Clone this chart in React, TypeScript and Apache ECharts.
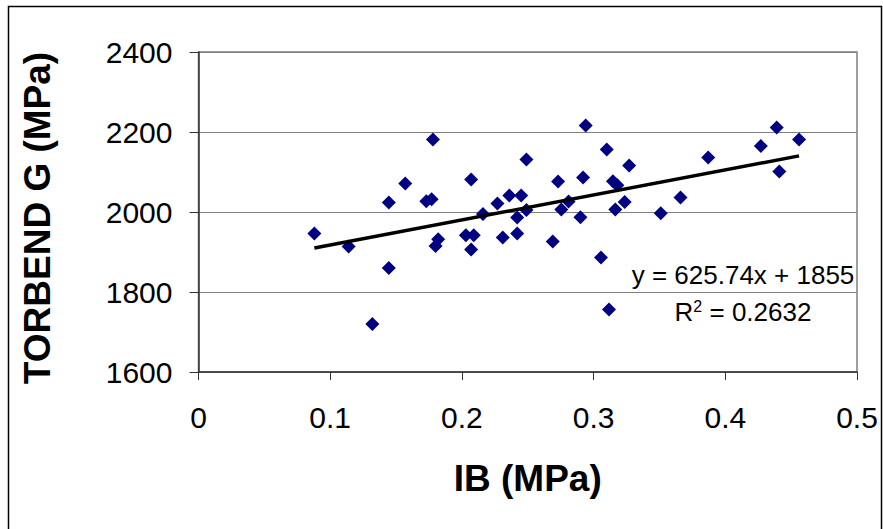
import React, { useEffect, useRef } from "react";
import * as echarts from "echarts";

const ibValues: number[] = [
  0.088, 0.114, 0.132, 0.1445, 0.1445, 0.157, 0.173, 0.177, 0.178, 0.180,
  0.182, 0.203, 0.207, 0.207, 0.209, 0.216, 0.227, 0.231, 0.236, 0.242,
  0.242, 0.245, 0.249, 0.249, 0.269, 0.273, 0.2755, 0.281, 0.290, 0.292,
  0.294, 0.3056, 0.310, 0.3117, 0.3147, 0.3165, 0.318, 0.3236, 0.327, 0.351,
  0.366, 0.387, 0.427, 0.439, 0.441, 0.456,
];
const torbendValues: number[] = [
  1946, 1914, 1720, 1860, 2024, 2071, 2027, 2032, 2181, 1915,
  1932, 1942, 1906, 2081, 1942, 1995, 2021, 1936, 2041, 1946,
  1986, 2041, 2005, 2131, 1926, 2076, 2006, 2026, 1987, 2086,
  2216, 1886, 2156, 1756, 2077, 2006, 2067, 2025, 2116, 1997,
  2036, 2136, 2165, 2211, 2101, 2181,
];
const trendSlope = 625.74;
const trendIntercept = 1855;
const equationText = "y = 625.74x + 1855";
const r2Value = "0.2632";
const xTicks = { min: 0, max: 0.5, interval: 0.1 };
const yTicks = { min: 1600, max: 2400, interval: 200 };

export default function App() {
  const ref = useRef<HTMLDivElement>(null);
  useEffect(() => {
    document.body.style.margin = "0";
    if (!ref.current) return;
    const chart = echarts.init(ref.current, null, { renderer: "svg" });
    const points = ibValues.map((x, i) => [x, torbendValues[i]]);
    const xMin = Math.min(...ibValues);
    const xMax = Math.max(...ibValues);
    const trend = [
      [xMin, trendSlope * xMin + trendIntercept],
      [xMax, trendSlope * xMax + trendIntercept],
    ];
    const font = "Arial, 'Liberation Sans', sans-serif";
    chart.setOption({
      animation: false,
      backgroundColor: "#ffffff",
      grid: {
        left: 198.5,
        right: 26,
        top: 52,
        bottom: 157,
        show: true,
        borderColor: "#808080",
        borderWidth: 1.5,
        backgroundColor: "transparent",
      },
      xAxis: {
        type: "value",
        min: xTicks.min,
        max: xTicks.max,
        interval: xTicks.interval,
        axisLine: { show: true, onZero: false, lineStyle: { color: "#333", width: 1.5 } },
        axisTick: { show: true, inside: false, length: 8, lineStyle: { color: "#333", width: 1 } },
        axisLabel: { color: "#000", fontSize: 30, fontFamily: font, margin: 30, formatter: (v: number) => String(v) },
        splitLine: { show: false },
        name: "IB (MPa)",
        nameLocation: "middle",
        nameGap: 88,
        nameTextStyle: { color: "#000", fontSize: 37, fontWeight: "bold", fontFamily: font },
      },
      yAxis: {
        type: "value",
        min: yTicks.min,
        max: yTicks.max,
        interval: yTicks.interval,
        axisLine: { show: true, lineStyle: { color: "#333", width: 1.5 } },
        axisTick: { show: true, inside: false, length: 9, lineStyle: { color: "#333", width: 1 } },
        axisLabel: { color: "#000", fontSize: 30, fontFamily: font, margin: 26, formatter: (v: number) => String(v) },
        splitLine: { show: true, lineStyle: { color: "#808080", width: 1 } },
      },
      graphic: [
        {
          type: "rect",
          shape: { x: 8.5, y: 6.5, width: 873, height: 560 },
          style: { fill: "none", stroke: "#000", lineWidth: 1.5 },
          silent: true,
        },
        {
          type: "text",
          x: 37,
          y: 218,
          rotation: Math.PI / 2,
          style: {
            text: "TORBEND G (MPa)",
            fontSize: 37,
            fontWeight: "bold",
            fontFamily: font,
            fill: "#000",
            align: "center",
            verticalAlign: "middle",
          },
        },
        {
          type: "text",
          x: 743,
          y: 275,
          style: {
            text: equationText,
            fontSize: 26,
            fontFamily: font,
            fill: "#000",
            align: "center",
            verticalAlign: "middle",
          },
        },
        {
          type: "text",
          x: 743,
          y: 312,
          style: {
            text: "{a|R}{s|2}{a| = " + r2Value + "}",
            align: "center",
            verticalAlign: "middle",
            rich: {
              a: { fontSize: 26, fontFamily: font, fill: "#000", color: "#000" },
              s: { fontSize: 16, fontFamily: font, color: "#000", verticalAlign: "top", padding: [0, 0, 12, 0] },
            },
          },
        },
      ],
      series: [
        {
          type: "scatter",
          data: points,
          symbol: "diamond",
          symbolSize: 14,
          itemStyle: { color: "#000080", opacity: 1 },
          z: 3,
        },
        {
          type: "line",
          data: trend,
          symbol: "none",
          lineStyle: { color: "#000", width: 3.5 },
          z: 4,
        },
      ],
    });
    return () => chart.dispose();
  }, []);
  return <div ref={ref} style={{ width: 883, height: 529 }} />;
}
